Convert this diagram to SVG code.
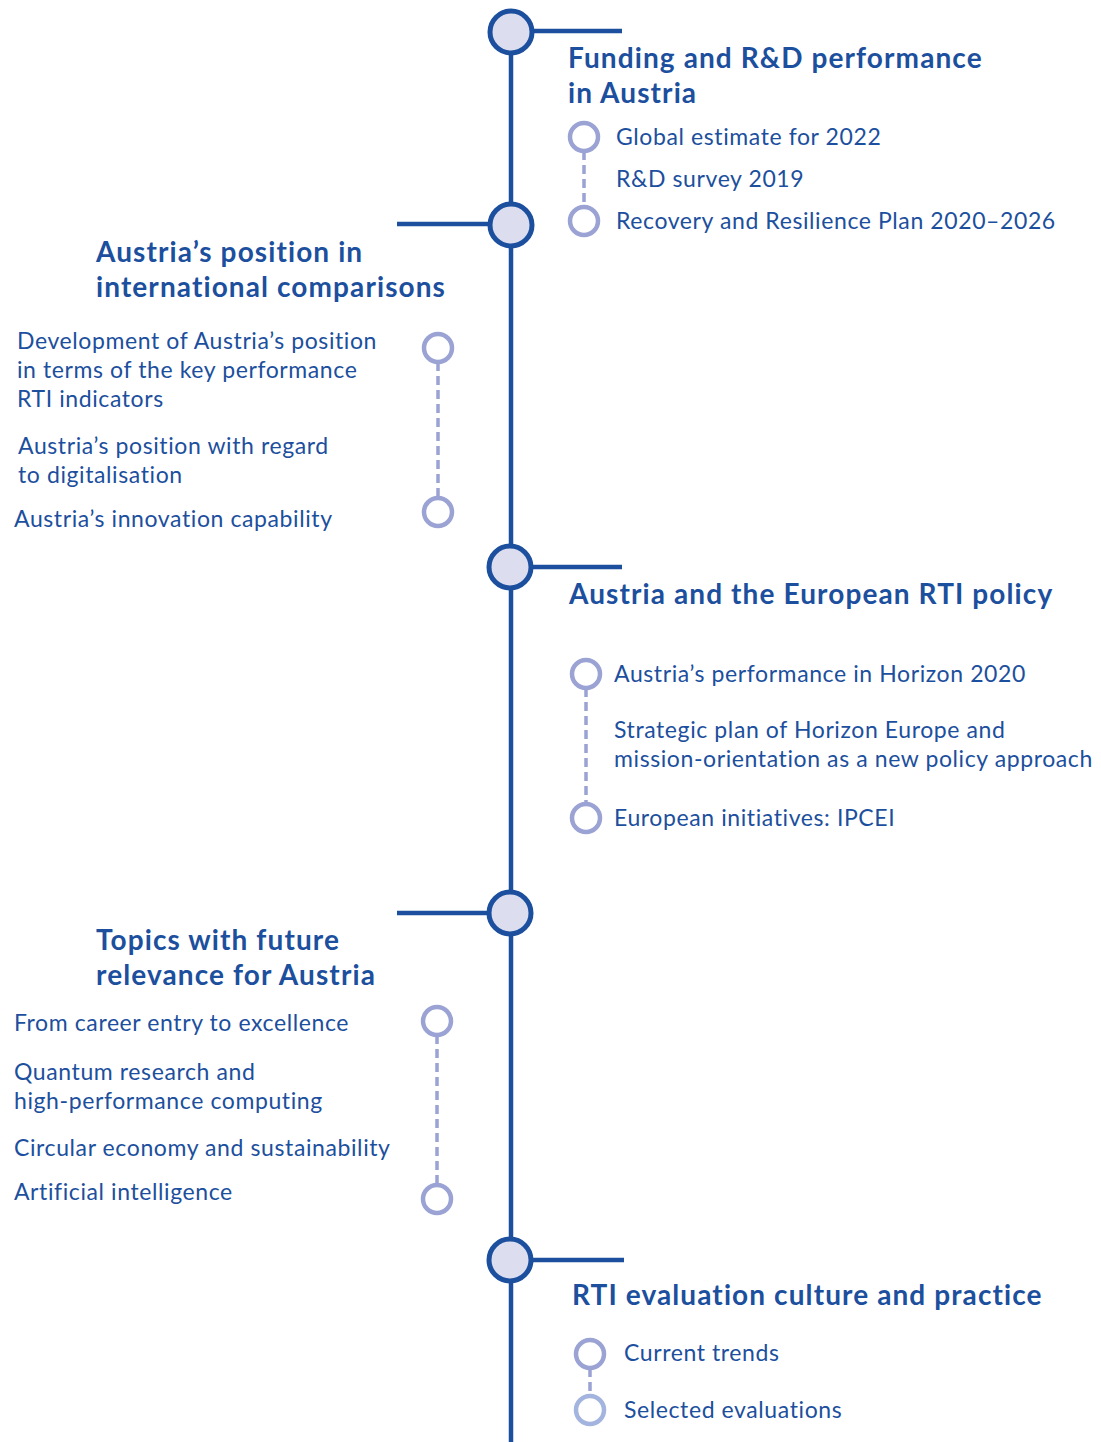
<svg xmlns="http://www.w3.org/2000/svg" width="1101" height="1442" viewBox="0 0 1101 1442">
<style>
.t{font-family:Lato,"Open Sans",sans-serif;font-weight:700;font-size:28px;letter-spacing:1.1px;fill:#1c4f9d}
.i{font-family:Lato,"Open Sans",sans-serif;font-size:23px;letter-spacing:0.6px;fill:#1c4f9d}
.sp{stroke:#1c4f9d;stroke-width:4.5;fill:none}
.mn{fill:#dcdef0;stroke:#1c4f9d;stroke-width:5}
.sn{fill:#fff;stroke:#9aa3d3;stroke-width:4.5}
.dash{stroke:#9aa3d3;stroke-width:3.5;stroke-dasharray:9 5;fill:none}
</style>
<g id="connectors">
<line class="sp" x1="511" y1="32" x2="511" y2="1442"/>
<line class="sp" x1="511" y1="31" x2="622" y2="31"/>
<line class="sp" x1="397" y1="224" x2="511" y2="224"/>
<line class="sp" x1="511" y1="567" x2="622" y2="567"/>
<line class="sp" x1="397" y1="913" x2="511" y2="913"/>
<line class="sp" x1="511" y1="1260" x2="624" y2="1260"/>
<line class="dash" x1="584" y1="151" x2="584" y2="207"/>
<line class="dash" x1="438" y1="362" x2="438" y2="498"/>
<line class="dash" x1="586" y1="688" x2="586" y2="804"/>
<line class="dash" x1="437" y1="1035" x2="437" y2="1185"/>
<line class="dash" x1="590" y1="1368" x2="590" y2="1396"/>
</g>
<g id="node-funding">
<circle class="mn" cx="511" cy="32" r="21"/>
<text class="t" x="568" y="68">Funding and R&amp;D performance</text>
<text class="t" x="568" y="103">in Austria</text>
<circle class="sn" cx="584" cy="137" r="14"/>
<circle class="sn" cx="584" cy="221" r="14"/>
<text class="i" x="616" y="145">Global estimate for 2022</text>
<text class="i" x="616" y="187">R&amp;D survey 2019</text>
<text class="i" x="616" y="229">Recovery and Resilience Plan 2020–2026</text>
</g>
<g id="node-international">
<circle class="mn" cx="511" cy="225" r="21"/>
<text class="t" x="96" y="262">Austria’s position in</text>
<text class="t" x="96" y="297">international comparisons</text>
<circle class="sn" cx="438" cy="348" r="14"/>
<circle class="sn" cx="438" cy="512" r="14"/>
<text class="i" x="17" y="349">Development of Austria’s position</text>
<text class="i" x="17" y="378">in terms of the key performance</text>
<text class="i" x="17" y="407">RTI indicators</text>
<text class="i" x="18" y="454">Austria’s position with regard</text>
<text class="i" x="18" y="483">to digitalisation</text>
<text class="i" x="14" y="527">Austria’s innovation capability</text>
</g>
<g id="node-european">
<circle class="mn" cx="510" cy="567" r="21"/>
<text class="t" x="569" y="604">Austria and the European RTI policy</text>
<circle class="sn" cx="586" cy="674" r="14"/>
<circle class="sn" cx="586" cy="818" r="14"/>
<text class="i" x="614" y="682">Austria’s performance in Horizon 2020</text>
<text class="i" x="614" y="738">Strategic plan of Horizon Europe and</text>
<text class="i" x="614" y="767">mission-orientation as a new policy approach</text>
<text class="i" x="614" y="826">European initiatives: IPCEI</text>
</g>
<g id="node-topics">
<circle class="mn" cx="510" cy="913" r="21"/>
<text class="t" x="96" y="950">Topics with future</text>
<text class="t" x="96" y="985">relevance for Austria</text>
<circle class="sn" cx="437" cy="1021" r="14"/>
<circle class="sn" cx="437" cy="1199" r="14"/>
<text class="i" x="14" y="1031">From career entry to excellence</text>
<text class="i" x="14" y="1080">Quantum research and</text>
<text class="i" x="14" y="1109">high-performance computing</text>
<text class="i" x="14" y="1156">Circular economy and sustainability</text>
<text class="i" x="14" y="1200">Artificial intelligence</text>
</g>
<g id="node-evaluation">
<circle class="mn" cx="510" cy="1260" r="21"/>
<text class="t" x="572" y="1305">RTI evaluation culture and practice</text>
<circle class="sn" cx="590" cy="1354" r="14"/>
<circle class="sn" cx="590" cy="1410" r="14" style="stroke:#a3b4de"/>
<text class="i" x="624" y="1361">Current trends</text>
<text class="i" x="624" y="1418">Selected evaluations</text>
</g>
</svg>
